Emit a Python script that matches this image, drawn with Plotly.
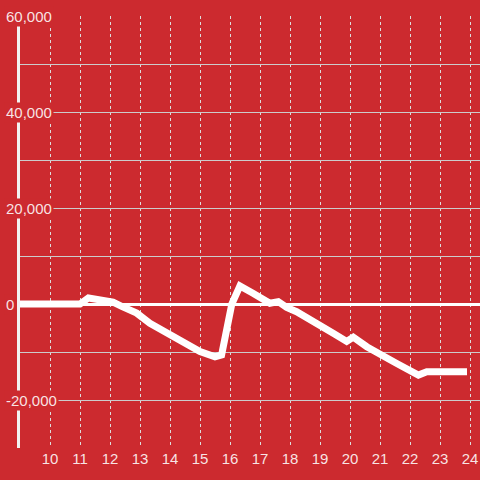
import plotly.graph_objects as go

# Data
hours = [9, 11.0, 11.28, 11.6, 12.0, 12.1, 12.39, 12.67, 12.89, 13.33, 13.89, 14.44,
         15.0, 15.5, 15.72, 16.06, 16.33, 16.78, 17.33, 17.61, 17.89, 18.22, 19.0,
         19.44, 19.89, 20.11, 20.56, 21.0, 21.56, 22.28, 22.56, 23.9]
values = [0, 0, 1250, 800, 500, 400, -500, -1400, -1900, -4000, -6100, -8200,
          -9900, -11000, -10600, 0, 3750, 2200, 150, 500, -700, -1600, -4700,
          -6100, -7800, -6900, -8900, -10600, -12400, -14800, -14100, -14100]

x_ticks = list(range(10, 25))
y_label_vals = [60000, 40000, 20000, 0, -20000]
y_label_text = ["60,000", "40,000", "20,000", "0", "-20,000"]

BG = "#CC2A2F"
TXT = "rgba(255,255,255,0.88)"
FONT = "Liberation Sans, Arial, sans-serif"

fig = go.Figure()
fig.add_trace(go.Scatter(
    x=hours, y=values, mode="lines",
    line=dict(color="white", width=7),
    hoverinfo="skip", showlegend=False,
))

annotations = []
for v, t in zip(y_label_vals, y_label_text):
    annotations.append(dict(
        x=0, xref="paper", y=v, yref="y", text=t, showarrow=False,
        xanchor="left", yanchor="middle", xshift=-16,
        font=dict(family=FONT, size=15, color=TXT),
        bgcolor=BG, borderpad=1,
    ))

fig.update_layout(
    width=480, height=480,
    margin=dict(l=20, r=0, t=16, b=32),
    paper_bgcolor=BG, plot_bgcolor=BG,
    font=dict(family=FONT, size=14, color=TXT),
    showlegend=False,
    annotations=annotations,
    xaxis=dict(
        range=[9, 24.3333], tickvals=x_ticks, ticktext=[str(v) for v in x_ticks],
        showgrid=True, gridcolor="#dddddd", gridwidth=1, griddash="dot",
        zeroline=False, showline=False, ticks="",
        tickfont=dict(family=FONT, size=15, color=TXT),
        fixedrange=True,
    ),
    yaxis=dict(
        range=[-30000, 60000], dtick=10000, tick0=0,
        showgrid=True, gridcolor="#cccccc", gridwidth=1,
        showticklabels=False, ticks="",
        zeroline=True, zerolinecolor="white", zerolinewidth=3,
        showline=True, linecolor="#f2f2f2", linewidth=3,
        fixedrange=True,
    ),
)

fig.write_html("out.html", config={"displayModeBar": False},
               post_script="document.body.style.margin='0';document.body.style.background='%s';" % BG)
